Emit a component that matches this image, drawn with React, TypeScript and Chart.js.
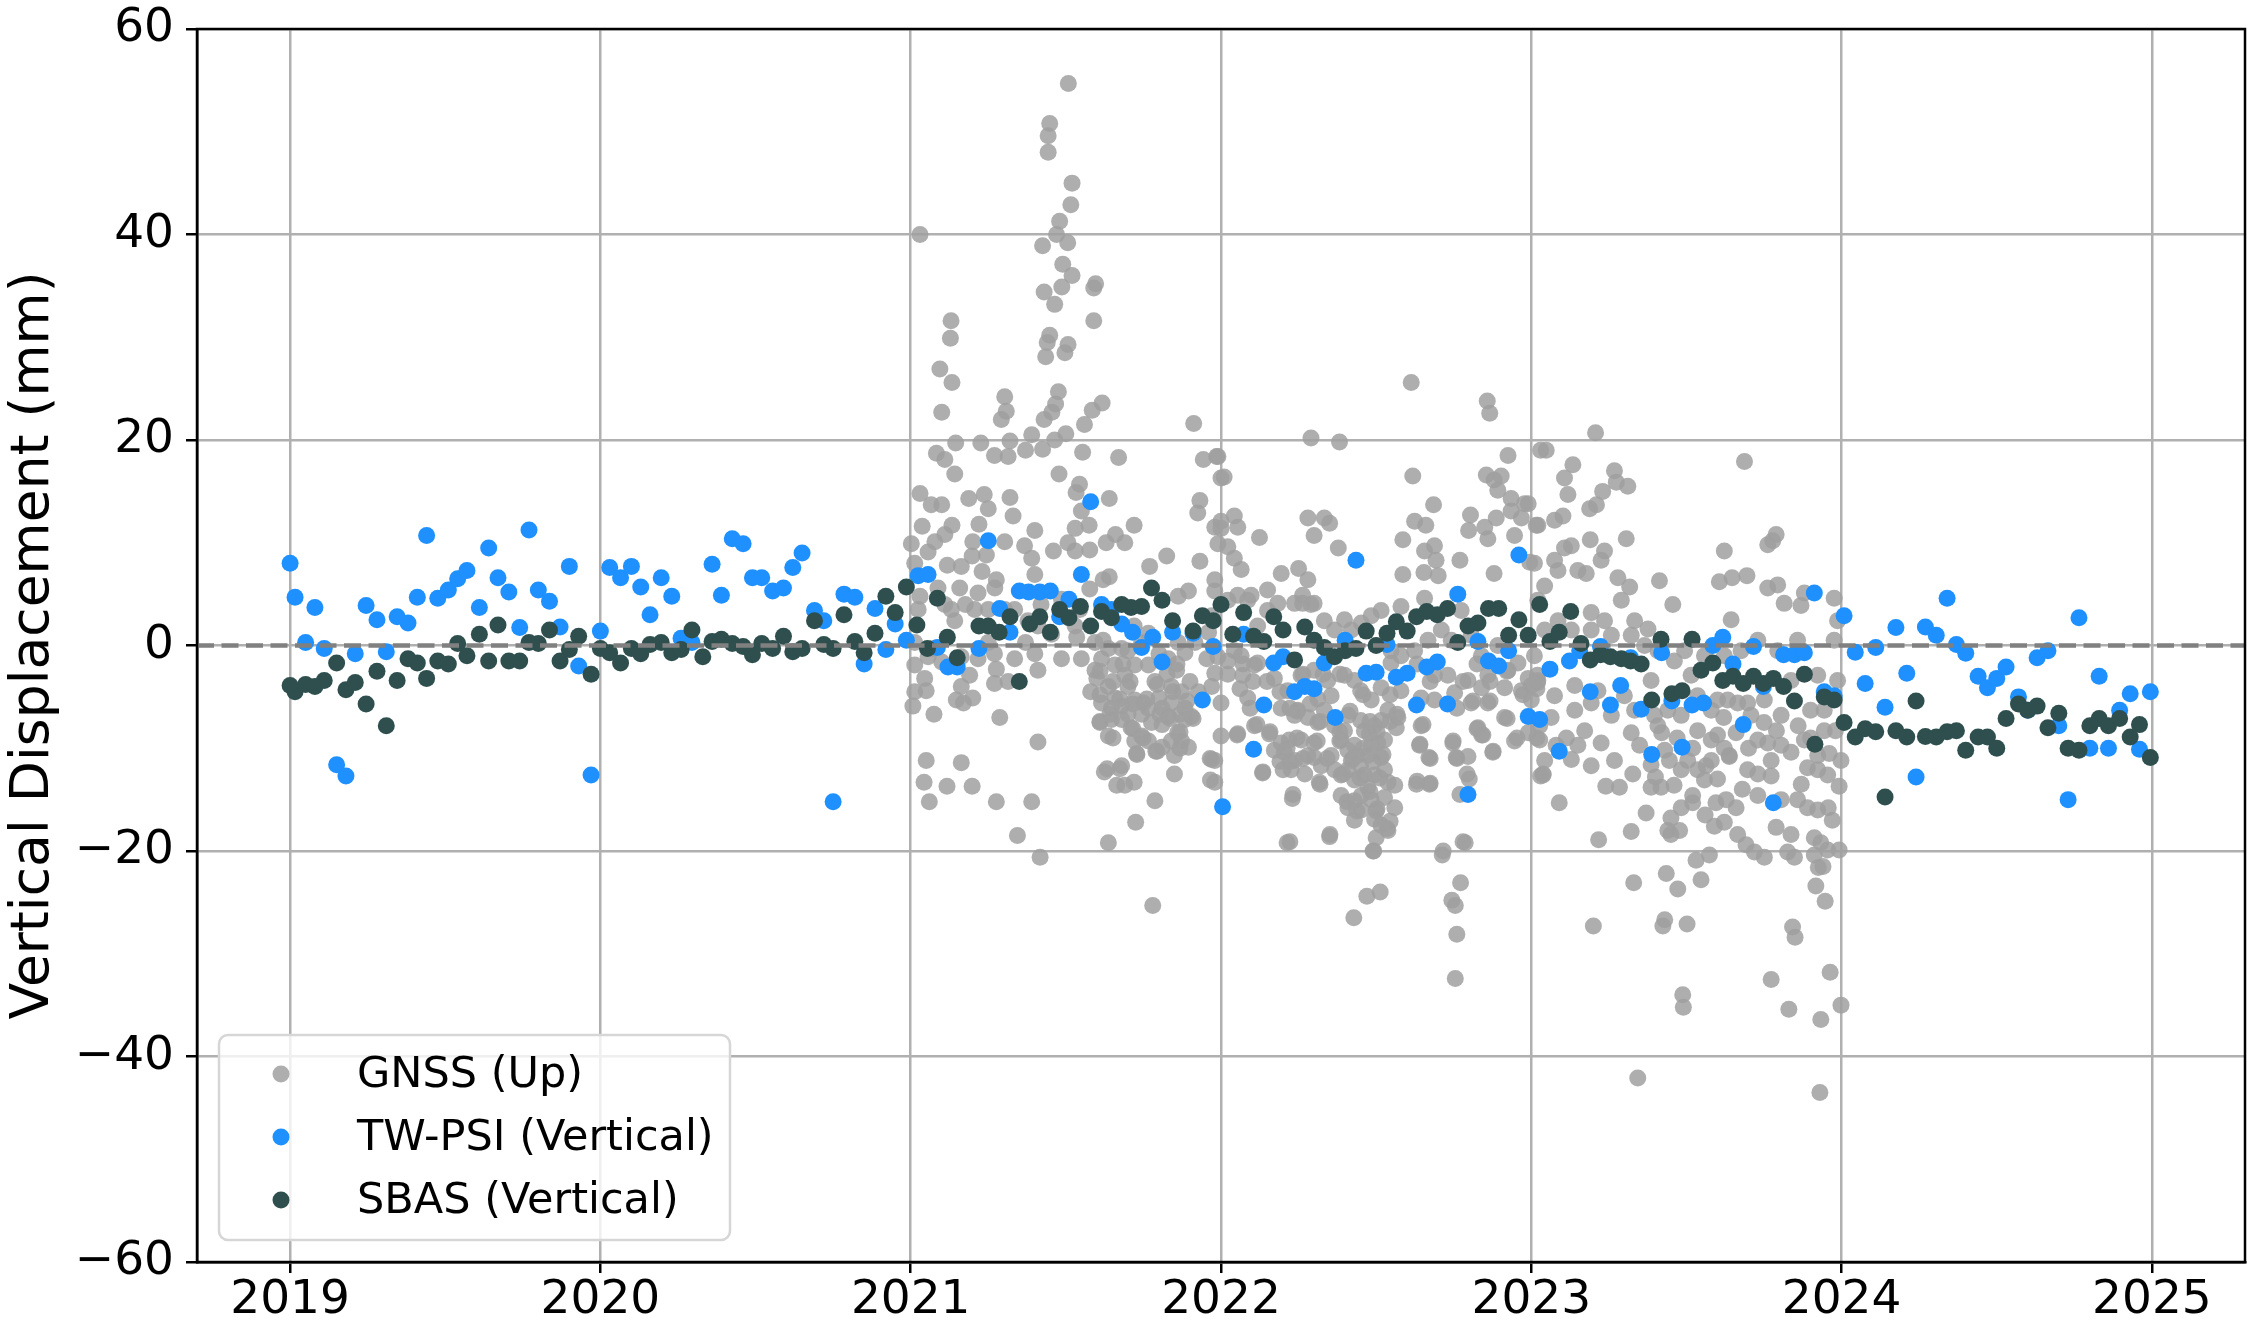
import { useEffect, useRef } from 'react';
import { Chart, registerables } from 'chart.js';

Chart.register(...registerables);

// Axis ticks
const YEAR_TICKS = [2019, 2020, 2021, 2022, 2023, 2024, 2025];
const Y_TICKS = [-60, -40, -20, 0, 20, 40, 60];

// TW-PSI (vertical), [decimal year, mm]
const PSI_VERTICAL: [number, number][] = [
  [2019.0, 8.0], [2019.016, 4.7], [2019.05, 0.3], [2019.08, 3.7], [2019.11, -0.3], [2019.15, -11.6],
  [2019.18, -12.7], [2019.21, -0.8], [2019.245, 3.9], [2019.28, 2.5], [2019.31, -0.6], [2019.345, 2.8],
  [2019.38, 2.2], [2019.41, 4.7], [2019.44, 10.7], [2019.476, 4.6], [2019.51, 5.4], [2019.54, 6.5],
  [2019.57, 7.3], [2019.61, 3.7], [2019.64, 9.5], [2019.67, 6.6], [2019.705, 5.2], [2019.74, 1.75],
  [2019.77, 11.25], [2019.8, 5.4], [2019.836, 4.3], [2019.87, 1.8], [2019.9, 7.7], [2019.93, -2.0],
  [2019.97, -12.6], [2020.0, 1.4], [2020.03, 7.6], [2020.065, 6.6], [2020.1, 7.7], [2020.13, 5.7],
  [2020.16, 3.0], [2020.196, 6.6], [2020.23, 4.8], [2020.26, 0.7], [2020.295, 0.3], [2020.36, 7.9],
  [2020.39, 4.9], [2020.425, 10.4], [2020.46, 9.9], [2020.49, 6.6], [2020.52, 6.6], [2020.555, 5.3],
  [2020.59, 5.6], [2020.62, 7.6], [2020.65, 9.0], [2020.69, 3.4], [2020.72, 2.4], [2020.75, -15.2],
  [2020.785, 5.0], [2020.82, 4.7], [2020.85, -1.8], [2020.885, 3.6], [2020.92, -0.4], [2020.95, 2.1],
  [2020.986, 0.5], [2021.024, 6.8], [2021.056, 6.9], [2021.086, -0.2], [2021.12, -2.1], [2021.15, -2.1],
  [2021.22, -0.3], [2021.25, 10.2], [2021.287, 3.6], [2021.32, 1.3], [2021.35, 5.3], [2021.38, 5.2],
  [2021.416, 5.2], [2021.45, 5.3], [2021.48, 2.8], [2021.51, 4.5], [2021.55, 6.9], [2021.58, 14.0],
  [2021.615, 4.0], [2021.647, 3.5], [2021.68, 2.1], [2021.715, 1.3], [2021.744, -0.2], [2021.78, 0.8],
  [2021.81, -1.6], [2021.844, 1.3], [2021.91, 1.2], [2021.94, -5.3], [2021.975, -0.1], [2022.005, -15.7],
  [2022.073, 1.1], [2022.105, -10.1], [2022.138, -5.8], [2022.17, -1.7], [2022.2, -1.1], [2022.237, -4.5],
  [2022.27, -4.0], [2022.3, -4.2], [2022.333, -1.7], [2022.368, -7.0], [2022.4, 0.5], [2022.435, 8.3],
  [2022.468, -2.7], [2022.5, -2.6], [2022.535, 0.1], [2022.565, -3.1], [2022.6, -2.7], [2022.63, -5.8],
  [2022.663, -2.1], [2022.697, -1.6], [2022.73, -5.7], [2022.763, 5.0], [2022.796, -14.5], [2022.828, 0.4],
  [2022.862, -1.5], [2022.895, -2.0], [2022.927, -0.5], [2022.96, 8.8], [2022.99, -6.9], [2023.027, -7.2],
  [2023.06, -2.3], [2023.09, -10.3], [2023.123, -1.5], [2023.156, -0.5], [2023.19, -4.5], [2023.223, -0.1],
  [2023.255, -5.8], [2023.288, -3.9], [2023.32, -1.2], [2023.354, -6.2], [2023.388, -10.6], [2023.42, -0.7],
  [2023.453, -5.4], [2023.486, -9.9], [2023.518, -5.8], [2023.555, -5.6], [2023.585, 0.0], [2023.617, 0.8],
  [2023.65, -1.8], [2023.683, -7.7], [2023.716, -0.1], [2023.748, -4.0], [2023.78, -15.3], [2023.813, -0.9],
  [2023.848, -0.9], [2023.88, -0.7], [2023.912, 5.1], [2023.944, -4.5], [2023.976, -4.9], [2024.008, 2.9],
  [2024.044, -0.65], [2024.076, -3.7], [2024.11, -0.2], [2024.14, -6.0], [2024.175, 1.75], [2024.21, -2.7],
  [2024.24, -12.8], [2024.27, 1.8], [2024.305, 1.0], [2024.34, 4.6], [2024.37, 0.1], [2024.4, -0.75],
  [2024.44, -3.0], [2024.47, -4.1], [2024.5, -3.2], [2024.53, -2.1], [2024.57, -5.0], [2024.6, -6.3],
  [2024.63, -1.2], [2024.665, -0.5], [2024.7, -7.8], [2024.73, -15.0], [2024.765, 2.7], [2024.8, -10.0],
  [2024.83, -3.0], [2024.86, -10.0], [2024.896, -6.3], [2024.93, -4.7], [2024.96, -10.1], [2024.995, -4.5],
];

// SBAS (vertical), [decimal year, mm]
const SBAS_VERTICAL: [number, number][] = [
  [2019.0, -3.9], [2019.016, -4.5], [2019.05, -3.8], [2019.08, -4.0], [2019.11, -3.4], [2019.15, -1.7],
  [2019.18, -4.3], [2019.21, -3.6], [2019.245, -5.7], [2019.28, -2.5], [2019.31, -7.8], [2019.345, -3.4],
  [2019.38, -1.3], [2019.41, -1.7], [2019.44, -3.2], [2019.476, -1.5], [2019.51, -1.8], [2019.54, 0.2],
  [2019.57, -1.0], [2019.61, 1.1], [2019.64, -1.5], [2019.67, 2.0], [2019.705, -1.5], [2019.74, -1.5],
  [2019.77, 0.3], [2019.8, 0.2], [2019.836, 1.5], [2019.87, -1.5], [2019.9, -0.4], [2019.93, 0.9],
  [2019.97, -2.8], [2020.0, -0.3], [2020.03, -0.7], [2020.065, -1.7], [2020.1, -0.3], [2020.13, -0.8],
  [2020.16, 0.1], [2020.196, 0.3], [2020.23, -0.7], [2020.26, -0.4], [2020.295, 1.5], [2020.33, -1.1],
  [2020.36, 0.4], [2020.39, 0.6], [2020.425, 0.2], [2020.46, -0.1], [2020.49, -0.9], [2020.52, 0.2],
  [2020.555, -0.3], [2020.59, 0.9], [2020.62, -0.6], [2020.65, -0.3], [2020.69, 2.4], [2020.72, 0.1],
  [2020.75, -0.3], [2020.785, 3.0], [2020.82, 0.4], [2020.85, -0.7], [2020.885, 1.2], [2020.92, 4.8],
  [2020.95, 3.2], [2020.986, 5.7], [2021.02, 2.0], [2021.054, -0.3], [2021.086, 4.6], [2021.118, 0.8],
  [2021.15, -1.2], [2021.22, 1.9], [2021.25, 1.9], [2021.285, 1.3], [2021.32, 2.8], [2021.35, -3.5],
  [2021.384, 2.1], [2021.416, 2.8], [2021.45, 1.3], [2021.48, 3.5], [2021.51, 2.7], [2021.547, 3.8],
  [2021.58, 1.9], [2021.615, 3.3], [2021.647, 2.7], [2021.68, 4.0], [2021.71, 3.7], [2021.744, 3.8],
  [2021.776, 5.6], [2021.81, 4.4], [2021.844, 2.4], [2021.91, 1.4], [2021.94, 2.9], [2021.975, 2.4],
  [2022.0, 4.0], [2022.038, 1.1], [2022.073, 3.2], [2022.105, 0.9], [2022.138, 0.4], [2022.17, 2.8],
  [2022.2, 1.5], [2022.237, -1.4], [2022.27, 1.8], [2022.3, 0.5], [2022.333, -0.2], [2022.366, -1.1],
  [2022.4, -0.5], [2022.435, -0.3], [2022.468, 1.4], [2022.5, 0.0], [2022.535, 1.2], [2022.565, 2.3],
  [2022.6, 1.4], [2022.63, 2.8], [2022.663, 3.3], [2022.697, 3.0], [2022.73, 3.6], [2022.763, 0.3],
  [2022.796, 1.9], [2022.828, 2.2], [2022.862, 3.6], [2022.895, 3.6], [2022.927, 1.0], [2022.96, 2.5],
  [2022.99, 1.0], [2023.027, 4.0], [2023.06, 0.4], [2023.09, 1.3], [2023.127, 3.3], [2023.16, 0.2],
  [2023.19, -1.4], [2023.223, -0.9], [2023.255, -1.1], [2023.29, -1.3], [2023.32, -1.5], [2023.354, -1.8],
  [2023.388, -5.3], [2023.418, 0.6], [2023.453, -4.7], [2023.486, -4.4], [2023.518, 0.6], [2023.547, -2.4],
  [2023.585, -1.7], [2023.617, -3.4], [2023.65, -3.0], [2023.683, -3.7], [2023.716, -3.0], [2023.748, -3.7],
  [2023.78, -3.2], [2023.813, -4.0], [2023.848, -5.4], [2023.88, -2.8], [2023.914, -9.6], [2023.944, -5.0],
  [2023.976, -5.3], [2024.008, -7.5], [2024.044, -8.9], [2024.076, -8.1], [2024.11, -8.4], [2024.14, -14.75],
  [2024.175, -8.3], [2024.21, -8.9], [2024.24, -5.4], [2024.27, -8.85], [2024.305, -8.9], [2024.34, -8.4],
  [2024.37, -8.3], [2024.4, -10.2], [2024.44, -8.9], [2024.47, -8.9], [2024.5, -10.0], [2024.53, -7.1],
  [2024.57, -5.7], [2024.6, -6.3], [2024.63, -5.9], [2024.665, -8.0], [2024.7, -6.6], [2024.73, -10.0],
  [2024.765, -10.2], [2024.8, -7.8], [2024.83, -7.1], [2024.86, -7.8], [2024.896, -7.1], [2024.93, -8.9],
  [2024.96, -7.7], [2024.995, -10.9],
];

// GNSS (up), [decimal year, mm], one array per year
const GNSS_2021: [number, number][] = [
  [2021.508, 54.7], [2021.448, 50.8], [2021.443, 49.6], [2021.443, 48.0], [2021.52, 45.0], [2021.516, 42.9],
  [2021.03, 40.0], [2021.48, 41.3], [2021.47, 40.0], [2021.506, 39.2], [2021.425, 38.9], [2021.49, 37.1],
  [2021.52, 36.0], [2021.487, 34.9], [2021.596, 35.2], [2021.59, 34.8], [2021.43, 34.4], [2021.464, 33.2],
  [2021.13, 31.6], [2021.59, 31.6], [2021.128, 29.9], [2021.448, 30.2], [2021.44, 29.5], [2021.507, 29.3],
  [2021.497, 28.5], [2021.435, 28.1], [2021.094, 26.9], [2021.133, 25.6], [2021.476, 24.7], [2021.303, 24.2],
  [2021.308, 22.8], [2021.617, 23.6], [2021.585, 22.9], [2021.467, 23.5], [2021.1, 22.7], [2021.455, 22.7],
  [2021.292, 22.0], [2021.43, 22.0], [2021.56, 21.5], [2021.912, 21.6], [2021.39, 20.5], [2021.5, 20.6],
  [2021.32, 19.9], [2021.145, 19.7], [2021.226, 19.7], [2021.37, 19.0], [2021.464, 20.0], [2021.425, 19.1],
  [2021.083, 18.7], [2021.11, 18.1], [2021.27, 18.5], [2021.314, 18.4], [2021.554, 18.8], [2021.67, 18.3],
  [2021.943, 18.1], [2021.986, 18.4], [2021.142, 16.7], [2021.478, 16.7], [2021.544, 15.7], [2022.0, 16.3],
  [2021.03, 14.8], [2021.237, 14.7], [2021.32, 14.4], [2021.533, 14.9], [2021.187, 14.3], [2021.066, 13.7],
  [2021.1, 13.7], [2021.64, 14.3], [2021.932, 14.1], [2021.25, 13.3], [2021.22, 11.8], [2021.33, 12.6],
  [2021.55, 13.1], [2021.925, 12.9], [2021.037, 11.6], [2021.133, 11.7], [2021.72, 11.7], [2021.4, 11.2],
  [2021.53, 11.4], [2021.575, 11.7], [2021.98, 11.5], [2021.11, 10.8], [2021.002, 9.9], [2021.078, 10.1],
  [2021.2, 10.1], [2021.303, 10.1], [2021.507, 10.0], [2021.66, 10.8], [2021.63, 10.0], [2021.69, 10.0],
  [2021.99, 9.9], [2021.056, 9.1], [2021.367, 9.7], [2021.577, 9.3], [2021.39, 8.5], [2021.46, 9.2],
  [2021.53, 9.2], [2021.825, 8.7], [2021.198, 8.7], [2021.244, 8.8], [2021.77, 7.7], [2021.118, 7.8],
  [2021.013, 8.0], [2021.163, 7.7], [2021.932, 8.2], [2021.23, 7.2], [2021.4, 6.9], [2021.62, 6.4],
  [2021.64, 6.7], [2021.895, 5.3], [2021.98, 6.4], [2021.158, 5.6], [2021.03, 4.8], [2021.217, 5.1],
  [2021.276, 6.4], [2021.577, 5.5], [2021.862, 4.8], [2021.11, 4.0], [2021.176, 4.0], [2021.25, 3.5],
  [2021.335, 3.5], [2021.545, 3.5], [2021.97, 2.9], [2021.142, 2.4], [2021.41, 1.9], [2021.454, 1.1],
  [2021.535, 0.8], [2021.72, 1.9], [2021.766, 1.2], [2021.013, 0.3], [2021.072, -0.3], [2021.25, 0.3],
  [2021.37, 0.3], [2021.62, 0.5], [2021.68, -0.3], [2021.884, -0.7], [2021.99, -1.1], [2021.056, -1.1],
  [2021.163, -1.1], [2021.27, -0.8], [2021.4, -0.8], [2021.83, -1.3], [2021.954, -1.3], [2021.276, -2.3],
  [2021.045, -3.2], [2021.163, -4.0], [2021.19, -2.9], [2021.27, -3.7], [2021.314, -3.5], [2021.594, -2.4],
  [2021.6, -3.2], [2021.637, -4.0], [2021.69, -2.9], [2021.7, -4.0], [2021.766, -1.9], [2021.857, -2.4],
  [2021.9, -3.5], [2021.98, -2.7], [2021.013, -4.5], [2021.05, -4.4], [2021.007, -5.9], [2021.147, -5.3],
  [2021.2, -5.1], [2021.58, -4.5], [2021.658, -5.1], [2021.68, -5.9], [2021.722, -5.3], [2021.75, -5.6],
  [2021.8, -5.1], [2021.84, -5.6], [2021.884, -6.1], [2021.905, -6.9], [2021.075, -6.7], [2021.17, -5.6],
  [2021.287, -7.0], [2021.61, -7.5], [2021.647, -7.2], [2021.71, -8.0], [2021.776, -7.5], [2021.81, -7.7],
  [2021.86, -8.5], [2021.637, -8.8], [2021.744, -8.8], [2021.84, -9.3], [2021.41, -9.4], [2021.728, -10.5],
  [2021.79, -10.3], [2021.85, -10.7], [2021.05, -11.2], [2021.163, -11.4], [2021.97, -11.1], [2021.68, -11.7],
  [2021.85, -12.5], [2021.624, -12.3], [2021.043, -13.3], [2021.117, -13.7], [2021.198, -13.7], [2021.966, -13.1],
  [2021.664, -13.6], [2021.69, -13.6], [2021.72, -13.3], [2021.06, -15.2], [2021.276, -15.2], [2021.39, -15.2],
  [2021.787, -15.1], [2021.344, -18.5], [2021.637, -19.2], [2021.725, -17.2], [2021.417, -20.6], [2021.78, -25.3],
  [2021.024, 3.5], [2021.088, 5.6], [2021.131, 3.5], [2021.206, 3.5], [2021.271, 5.6], [2021.303, 3.5],
  [2021.378, 2.4], [2021.42, 4.0], [2021.486, 4.5], [2021.53, 1.9], [2021.594, 0.3], [2021.637, -0.3],
  [2021.7, -0.5], [2021.744, 0.3], [2021.8, -0.8], [2021.862, 0.3], [2021.916, 0.3], [2021.96, 1.3],
  [2021.013, -1.9], [2021.1, -1.6], [2021.217, -1.3], [2021.335, -1.3], [2021.41, -2.4], [2021.486, -1.3],
  [2021.55, -1.3], [2021.615, -1.3], [2021.658, -1.9], [2021.722, -1.9], [2021.787, -3.5], [2021.84, -4.0],
  [2021.927, -4.5], [2021.97, -4.0], [2022.0, -5.6], [2022.0, -8.8], [2021.615, -5.6], [2021.647, -6.1],
  [2021.68, -7.2], [2021.7, -6.7], [2021.744, -6.7], [2021.766, -6.1], [2021.81, -6.1], [2021.83, -6.9],
  [2021.873, -4.5], [2021.884, -7.2], [2021.722, -9.3], [2021.766, -9.3], [2021.81, -9.9], [2021.873, -9.3],
  [2021.895, -9.9],
  [2021.61, -2.5], [2021.652, -3.5], [2021.707, -3.5], [2021.684, -1.8], [2021.61, -4.8], [2021.674, -5.2],
  [2021.716, -5.7], [2021.761, -5.2], [2021.794, -3.8], [2021.826, -2.8], [2021.858, -1.8], [2021.845, -4.5],
  [2021.89, -5.4], [2021.868, -6.7], [2021.642, -6.7], [2021.61, -7.4], [2021.803, -6.7], [2021.836, -7.1],
  [2021.91, -7.1], [2021.716, -8.1], [2021.749, -9.0], [2021.794, -10.3], [2021.868, -8.4], [2021.868, -10.0],
  [2021.652, -9.0], [2021.633, -12.0], [2021.674, -12.0], [2021.729, -10.6], [2021.965, -11.0],
];

const GNSS_2022: [number, number][] = [
  [2022.613, 25.6], [2022.858, 23.8], [2022.866, 22.6], [2022.29, 20.2], [2022.382, 19.8], [2021.99, 18.4],
  [2023.03, 19.0], [2022.925, 18.5], [2022.01, 16.4], [2022.618, 16.5], [2022.855, 16.6], [2022.88, 16.1],
  [2022.903, 16.5], [2022.892, 15.1], [2022.935, 14.3], [2022.978, 13.8], [2022.685, 13.7], [2022.0, 12.1],
  [2022.0, 11.4], [2022.043, 12.6], [2022.054, 11.5], [2022.28, 12.4], [2022.333, 12.4], [2022.35, 11.9],
  [2022.624, 12.1], [2022.66, 11.7], [2022.804, 12.7], [2022.935, 13.1], [2022.968, 12.4], [2023.016, 11.7],
  [2022.124, 10.5], [2022.3, 10.7], [2022.586, 10.3], [2022.798, 11.2], [2022.85, 11.5], [2022.887, 12.4],
  [2022.946, 10.7], [2022.86, 10.4], [2022.022, 9.6], [2022.378, 9.5], [2022.656, 9.2], [2022.688, 9.7],
  [2022.043, 8.5], [2022.693, 8.3], [2022.77, 8.3], [2022.995, 8.1], [2022.065, 7.4], [2022.194, 7.0],
  [2022.25, 7.5], [2022.28, 6.4], [2022.586, 6.9], [2022.654, 7.1], [2022.7, 6.8], [2022.88, 7.0],
  [2022.15, 5.4], [2022.097, 4.9], [2022.263, 4.1], [2022.29, 4.0], [2022.656, 4.6], [2022.58, 3.8],
  [2022.398, 2.5], [2022.043, -0.5], [2022.118, -1.7], [2022.022, -2.8], [2022.07, -2.9], [2022.215, -4.4],
  [2022.086, -5.1], [2022.194, -6.1], [2022.237, -6.8], [2022.312, -5.2], [2022.355, -4.9], [2022.398, -2.9],
  [2022.45, -4.4], [2022.484, -5.3], [2022.548, -1.7], [2022.57, -7.0], [2022.645, -5.1], [2022.688, -5.3],
  [2022.753, -4.6], [2022.806, -5.6], [2022.84, -4.1], [2022.86, -5.6], [2022.914, -4.1], [2022.99, -3.2],
  [2023.02, -3.6], [2022.108, -7.8], [2022.156, -8.6], [2022.054, -8.6], [2022.312, -7.5], [2022.41, -6.8],
  [2022.45, -7.3], [2022.495, -7.8], [2022.527, -9.2], [2022.565, -8.0], [2022.645, -7.8], [2022.828, -8.0],
  [2022.84, -8.7], [2022.914, -7.0], [2022.946, -9.3], [2023.027, -7.8], [2022.22, -9.2], [2022.258, -9.2],
  [2022.3, -9.5], [2022.387, -9.2], [2022.43, -9.7], [2022.478, -8.6], [2022.505, -9.5], [2022.64, -9.7],
  [2022.747, -9.5], [2022.876, -10.4], [2021.98, -11.2], [2022.204, -10.4], [2022.237, -11.2], [2022.3, -10.9],
  [2022.42, -11.2], [2022.473, -10.7], [2022.516, -10.9], [2022.67, -10.9], [2022.758, -10.9], [2022.796, -10.8],
  [2022.134, -12.4], [2022.2, -12.1], [2022.27, -12.5], [2022.323, -11.7], [2022.387, -12.6], [2022.45, -11.7],
  [2022.495, -12.6], [2022.317, -13.3], [2022.43, -13.1], [2022.473, -13.8], [2022.56, -13.6], [2022.63, -13.5],
  [2022.672, -13.5], [2022.8, -13.0], [2023.03, -12.7], [2021.98, -13.3], [2022.23, -14.9], [2022.387, -14.6],
  [2022.43, -15.1], [2022.527, -14.8], [2022.409, -15.8], [2022.452, -16.0], [2022.5, -16.1], [2022.56, -15.8],
  [2022.43, -17.0], [2022.495, -16.9], [2022.516, -17.5], [2022.538, -18.0], [2022.5, -18.7], [2022.213, -19.2],
  [2022.35, -18.6], [2022.787, -19.2], [2022.492, -20.0], [2022.713, -20.4], [2022.772, -23.1], [2022.47, -24.4],
  [2022.513, -24.0], [2022.744, -24.8], [2022.755, -25.3], [2022.428, -26.5], [2022.76, -28.1], [2022.755, -32.4],
  [2021.98, 5.3], [2022.022, 4.4], [2022.054, 4.9], [2022.086, 4.4], [2022.118, 1.9], [2022.15, 3.4],
  [2022.183, 4.1], [2022.237, 4.1], [2022.263, 4.9], [2022.3, 4.1], [2022.333, 2.4], [2022.366, 1.5],
  [2022.42, 1.5], [2022.452, 2.2], [2022.484, 2.9], [2022.516, 3.4], [2022.548, -0.5], [2022.58, -1.0],
  [2022.624, -0.5], [2022.667, 0.5], [2022.71, 1.5], [2022.742, 0.5], [2022.774, 3.4], [2022.806, 1.0],
  [2022.839, -1.0], [2022.892, 0.0], [2022.925, -2.4], [2022.957, -1.7], [2023.01, -1.0], [2022.022, -1.5],
  [2022.065, -1.0], [2022.108, -1.9], [2022.172, -3.2], [2022.258, -2.9], [2022.3, -2.4], [2022.344, -3.4],
  [2022.43, -3.4], [2022.516, -4.1], [2022.58, -4.4], [2022.688, -2.9], [2022.731, -2.9], [2022.796, -3.4],
  [2022.86, -2.9], [2022.968, -4.4], [2023.0, -5.3], [2022.247, -6.3], [2022.28, -7.0], [2022.333, -6.3],
  [2022.366, -7.8], [2022.398, -8.3], [2022.462, -8.3], [2022.484, -9.7], [2022.516, -7.3], [2022.538, -6.3],
  [2022.409, -10.2], [2022.44, -10.7], [2022.355, -10.7], [2022.366, -12.1], [2022.409, -12.1], [2022.462, -12.6],
  [2022.527, -12.1], [2022.538, -13.3], [2022.452, -14.6], [2022.484, -15.0], [2022.226, -12.1], [2022.28, -10.7],
  [2022.194, -9.5], [2022.172, -10.2],
  [2022.264, -2.8], [2022.329, -2.8], [2022.383, -2.8], [2022.245, -6.4], [2022.287, -5.7], [2022.319, -7.4],
  [2022.383, -8.4], [2022.416, -6.4], [2022.458, -4.8], [2022.48, -7.4], [2022.503, -8.4], [2022.545, -7.4],
  [2022.567, -6.7], [2022.545, -4.8], [2022.245, -9.0], [2022.264, -11.0], [2022.31, -9.3], [2022.342, -11.0],
  [2022.383, -9.3], [2022.425, -11.0], [2022.458, -10.0], [2022.49, -11.3], [2022.522, -10.6], [2022.319, -13.5],
  [2022.393, -12.5], [2022.448, -12.9], [2022.512, -12.9], [2022.48, -14.2], [2022.406, -15.2], [2022.438, -16.1],
  [2022.503, -15.9], [2022.545, -17.1], [2022.535, -17.8], [2022.222, -11.3], [2022.232, -14.5], [2022.632, -1.8],
  [2022.674, -3.5], [2022.78, -3.5], [2022.825, -1.8], [2022.867, -3.5], [2022.922, -2.5], [2022.973, -4.8],
  [2023.018, -4.2], [2022.76, -6.1], [2022.812, -5.4], [2022.867, -5.4], [2022.922, -7.1], [2022.825, -8.1],
  [2022.844, -8.7], [2022.954, -9.0], [2023.018, -9.0], [2022.651, -7.7], [2022.641, -9.6], [2022.674, -11.0],
  [2022.76, -11.0], [2022.748, -9.3], [2022.632, -13.2], [2022.674, -13.4], [2022.793, -12.5], [2022.877, -10.3],
  [2023.038, -12.5], [2022.77, -14.5], [2022.351, -18.4], [2022.49, -20.0], [2022.716, -20.0], [2022.78, -19.1],
  [2022.222, -19.1], [2022.071, -1.8], [2022.103, -3.5], [2022.061, -4.2], [2022.148, -3.5], [2022.19, -4.5],
  [2022.094, -6.1], [2022.116, -7.7], [2022.052, -8.7], [2022.158, -8.4], [2022.222, -6.1], [2022.213, -10.0],
  [2022.19, -11.3], [2022.135, -12.3],
];

const GNSS_2023: [number, number][] = [
  [2023.207, 20.7], [2023.048, 19.0], [2023.134, 17.6], [2023.107, 16.3], [2023.268, 17.0], [2023.274, 15.9],
  [2023.311, 15.5], [2023.23, 15.0], [2023.118, 14.7], [2023.21, 13.7], [2023.188, 13.3], [2022.99, 13.8],
  [2023.102, 12.6], [2023.075, 12.2], [2023.021, 11.7], [2023.306, 10.4], [2023.19, 10.3], [2023.687, 17.9],
  [2023.789, 10.8], [2023.778, 10.2], [2023.762, 9.8], [2023.622, 9.2], [2023.107, 9.5], [2023.129, 9.7],
  [2023.236, 9.2], [2023.225, 8.3], [2023.01, 8.0], [2023.075, 8.3], [2023.086, 7.3], [2023.15, 7.3],
  [2023.177, 7.0], [2023.279, 6.6], [2023.317, 5.7], [2023.413, 6.3], [2023.606, 6.2], [2023.647, 6.6],
  [2023.695, 6.8], [2023.762, 5.6], [2023.794, 5.9], [2023.88, 5.1], [2023.043, 5.8], [2023.021, 4.4],
  [2023.29, 4.4], [2023.456, 4.0], [2023.815, 4.1], [2023.869, 3.9], [2023.976, 4.6], [2023.193, 3.2],
  [2023.236, 2.4], [2023.333, 2.4], [2023.376, 1.6], [2023.644, 2.5], [2023.02, -2.9], [2023.0, -3.9],
  [2023.14, -3.9], [2023.215, -4.4], [2023.515, -2.9], [2023.633, -5.3], [2023.697, -5.6], [2022.99, -8.5],
  [2023.027, -9.2], [2023.064, -7.0], [2023.113, -9.0], [2023.15, -9.7], [2023.129, -11.1], [2023.172, -8.3],
  [2023.225, -9.5], [2023.322, -8.5], [2023.349, -9.7], [2023.408, -7.8], [2023.397, -6.8], [2023.536, -8.3],
  [2023.58, -9.2], [2023.6, -8.7], [2023.622, -10.0], [2023.638, -10.7], [2023.73, -9.2], [2023.762, -9.5],
  [2023.805, -9.7], [2023.837, -10.4], [2023.944, -8.3], [2023.98, -8.3], [2023.038, -12.6], [2023.09, -15.3],
  [2023.24, -13.7], [2023.284, -13.8], [2023.327, -12.5], [2023.386, -11.6], [2023.386, -13.8], [2023.418, -13.8],
  [2023.46, -13.6], [2023.445, -11.2], [2023.536, -12.1], [2023.563, -11.7], [2023.558, -13.1], [2023.638, -10.8],
  [2023.73, -12.5], [2023.773, -12.7], [2023.89, -11.9], [2023.923, -12.1], [2023.955, -12.6], [2023.992, -13.7],
  [2023.37, -16.3], [2023.483, -15.8], [2023.52, -15.3], [2023.52, -14.6], [2023.595, -15.3], [2023.628, -15.0],
  [2023.73, -14.6], [2023.805, -15.0], [2023.858, -15.0], [2023.89, -15.8], [2023.923, -16.0], [2023.957, -15.8],
  [2023.217, -18.9], [2023.322, -18.1], [2023.44, -18.0], [2023.45, -18.4], [2023.478, -18.0], [2023.59, -17.6],
  [2023.622, -17.2], [2023.665, -18.4], [2023.692, -19.4], [2023.719, -20.1], [2023.751, -20.6], [2023.789, -17.7],
  [2023.837, -18.4], [2023.826, -20.1], [2023.848, -20.6], [2023.912, -18.7], [2023.933, -19.2], [2023.912, -20.4],
  [2023.955, -19.9], [2023.992, -19.9], [2023.531, -20.9], [2023.574, -20.4], [2023.547, -22.8], [2023.33, -23.1],
  [2023.435, -22.2], [2023.472, -23.7], [2023.925, -21.6], [2023.917, -23.4], [2023.947, -24.9], [2023.2, -27.3],
  [2023.43, -26.7], [2023.424, -27.3], [2023.502, -27.1], [2023.842, -27.4], [2023.85, -28.4], [2023.963, -31.8],
  [2023.773, -32.5], [2023.488, -34.0], [2023.49, -35.2], [2023.83, -35.4], [2023.933, -36.4], [2023.998, -35.0],
  [2023.343, -42.1], [2023.93, -43.5],
  [2023.043, 1.5], [2023.086, 2.4], [2023.129, 1.5], [2023.193, 1.5], [2023.258, 1.0], [2023.322, 1.0],
  [2023.365, 0.0], [2023.408, -0.5], [2023.461, -1.5], [2023.494, -0.5], [2023.558, -1.0], [2023.622, -1.0],
  [2023.676, -0.5], [2023.73, 0.5], [2023.794, -0.5], [2023.858, 0.5], [2023.923, -2.9], [2023.976, 0.5],
  [2023.987, 2.4], [2023.021, -3.4], [2023.075, -4.9], [2023.14, -6.3], [2023.193, -5.6], [2023.258, -6.8],
  [2023.3, -4.9], [2023.333, -6.3], [2023.386, -3.4], [2023.44, -6.3], [2023.483, -6.8], [2023.536, -4.9],
  [2023.58, -6.3], [2023.6, -5.3], [2023.665, -5.6], [2023.708, -6.8], [2023.751, -5.3], [2023.805, -6.8],
  [2023.837, -3.4], [2023.9, -6.3], [2023.944, -6.3], [2023.987, -3.4], [2023.998, -11.2], [2023.923, -10.7],
  [2023.88, -9.2], [2023.773, -11.2], [2023.697, -12.1], [2023.58, -11.2], [2023.483, -12.1], [2023.504, -11.2],
  [2023.43, -10.2], [2023.268, -11.2], [2023.193, -11.7], [2023.08, -9.7], [2023.043, -11.2],
  [2023.62, -7.0], [2023.66, -8.5], [2023.7, -10.0], [2023.75, -7.5], [2023.79, -8.3], [2023.86, -7.8],
  [2023.9, -9.0], [2023.96, -10.5], [2023.52, -10.0], [2023.47, -9.0], [2023.42, -8.5], [2023.56, -16.5],
  [2023.66, -15.8], [2023.87, -13.5], [2023.97, -17.0], [2023.94, -21.5], [2023.6, -13.0], [2023.68, -14.0],
  [2023.45, -16.8], [2023.4, -12.8],
];

const ZERO_LINE = 0;

const toPoints = (rows: [number, number][]) => rows.map(([x, y]) => ({ x, y }));

const FONT = "'DejaVu Sans', sans-serif";

// Dashed zero line on top of the markers
const zeroLinePlugin = {
  id: 'zeroLine',
  afterDatasetsDraw(chart: any) {
    const { ctx, chartArea: a, scales } = chart;
    const y = scales.y.getPixelForValue(ZERO_LINE);
    ctx.save();
    ctx.strokeStyle = '#808080';
    ctx.lineWidth = 4.5;
    ctx.setLineDash([17, 7.5]);
    ctx.beginPath();
    ctx.moveTo(a.left, y);
    ctx.lineTo(a.right, y);
    ctx.stroke();
    ctx.restore();
  },
};

// Box frame + legend in the lower left corner
const frameLegendPlugin = {
  id: 'frameLegend',
  afterDraw(chart: any) {
    const { ctx, chartArea: a } = chart;
    ctx.save();
    ctx.strokeStyle = '#000';
    ctx.lineWidth = 2.5;
    ctx.strokeRect(a.left, a.top, a.right - a.left, a.bottom - a.top);

    const w = 511;
    const h = 205;
    const x = a.left + 22;
    const y = a.bottom - 22 - h;
    ctx.beginPath();
    ctx.roundRect(x, y, w, h, 9);
    ctx.fillStyle = 'rgba(255,255,255,0.8)';
    ctx.fill();
    ctx.strokeStyle = '#d6d6d6';
    ctx.lineWidth = 2.5;
    ctx.stroke();

    ctx.font = `43px ${FONT}`;
    ctx.textBaseline = 'middle';
    ctx.textAlign = 'left';
    chart.data.datasets.forEach((ds: any, i: number) => {
      const cy = y + 39 + i * 63;
      ctx.beginPath();
      ctx.arc(x + 62, cy, 8.5, 0, Math.PI * 2);
      ctx.fillStyle = ds.backgroundColor;
      ctx.fill();
      ctx.fillStyle = '#000';
      ctx.fillText(ds.label, x + 138, cy + 2);
    });
    ctx.restore();
  },
};

export default function App() {
  const canvasRef = useRef<HTMLCanvasElement>(null);
  const chartRef = useRef<Chart | null>(null);

  useEffect(() => {
    document.body.style.margin = '0';
    if (!canvasRef.current) return;
    if (chartRef.current) chartRef.current.destroy();

    chartRef.current = new Chart(canvasRef.current, {
      type: 'scatter',
      data: {
        datasets: [
          {
            label: 'GNSS (Up)',
            data: toPoints([...GNSS_2021, ...GNSS_2022, ...GNSS_2023]),
            backgroundColor: 'rgba(160,160,160,0.85)',
            pointRadius: 8.5,
            pointBorderWidth: 0,
            order: 3,
          },
          {
            label: 'TW-PSI (Vertical)',
            data: toPoints(PSI_VERTICAL),
            backgroundColor: '#1e90ff',
            pointRadius: 8.5,
            pointBorderWidth: 0,
            order: 2,
          },
          {
            label: 'SBAS (Vertical)',
            data: toPoints(SBAS_VERTICAL),
            backgroundColor: '#2f4f4f',
            pointRadius: 8.5,
            pointBorderWidth: 0,
            order: 1,
          },
        ],
      },
      options: {
        responsive: false,
        maintainAspectRatio: false,
        animation: false,
        devicePixelRatio: 1,
        events: [],
        layout: { padding: { left: 0, right: 12, top: 29, bottom: 0 } },
        plugins: {
          legend: { display: false },
          tooltip: { enabled: false },
        },
        scales: {
          x: {
            type: 'linear',
            min: 2018.7,
            max: 2025.3,
            afterBuildTicks: (scale: any) => {
              scale.ticks = YEAR_TICKS.map((value) => ({ value }));
            },
            afterFit: (scale: any) => {
              scale.height = 66;
              scale.paddingLeft = 0;
              scale.paddingRight = 0;
            },
            ticks: {
              color: '#000',
              font: { family: FONT, size: 47 },
              padding: 0,
              maxRotation: 0,
              callback: (v: any) => String(v),
            },
            grid: { color: '#b0b0b0', lineWidth: 2.5, tickColor: '#000', tickLength: 11, tickWidth: 2.5 },
            border: { color: '#000', width: 2.5 },
          },
          y: {
            min: -60,
            max: 60,
            afterBuildTicks: (scale: any) => {
              scale.ticks = Y_TICKS.map((value) => ({ value }));
            },
            afterFit: (scale: any) => {
              scale.width = 197;
              scale.paddingTop = 0;
              scale.paddingBottom = 0;
            },
            ticks: {
              color: '#000',
              font: { family: FONT, size: 47 },
              padding: 12,
              callback: (v: any) => String(v).replace('-', '\u2212'),
            },
            grid: { color: '#b0b0b0', lineWidth: 2.5, tickColor: '#000', tickLength: 11, tickWidth: 2.5 },
            border: { color: '#000', width: 2.5 },
            title: {
              display: true,
              text: 'Vertical Displacement (mm)',
              color: '#000',
              font: { family: FONT, size: 53.5 },
              padding: { top: 2, bottom: 4 },
            },
          },
        },
      },
      plugins: [zeroLinePlugin, frameLegendPlugin],
    });

    return () => {
      if (chartRef.current) {
        chartRef.current.destroy();
        chartRef.current = null;
      }
    };
  }, []);

  return (
    <div style={{ width: '2257px', height: '1328px' }}>
      <canvas
        ref={canvasRef}
        width={2257}
        height={1328}
        style={{ display: 'block', width: '2257px', height: '1328px' }}
      />
    </div>
  );
}
